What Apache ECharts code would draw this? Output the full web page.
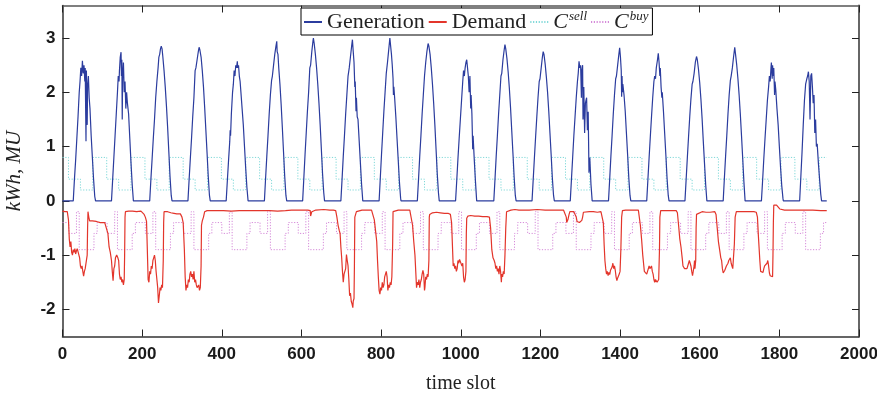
<!DOCTYPE html>
<html>
<head>
<meta charset="utf-8">
<script src="https://cdn.jsdelivr.net/npm/echarts@6/dist/echarts.min.js"></script>
<style>html,body{margin:0;padding:0;background:#fff}#c{width:877px;height:395px}</style>
</head>
<body>
<div id="c"></div>
<script>
// ---- data (slot-in-day, value); 96 slots per day, 20 days ----
const SLOTS_PER_DAY = 96;
const LAST_SLOT = 1919;
const xTicks = [0, 200, 400, 600, 800, 1000, 1200, 1400, 1600, 1800, 2000];
const yTicks = [-2, -1, 0, 1, 2, 3];

const generationByDay = [
  [[0,0],[27,0],[30,0.4],[33,0.75],[36,1.15],[39,1.55],[42,2.0],[44,2.2],[46,2.45],[48,2.3],[50,2.58],[52,2.35],[54,2.5],[56,2.2],[57,2.45],[59,1.1],[60,2.4],[61,2.0],[62,1.4],[63,2.1],[65,2.3],[67,1.9],[69,1.7],[72,1.2],[75,0.8],[78,0.4],[81,0.08],[83,0]],
  [[27,0],[30,0.4],[33,0.8],[36,1.2],[39,1.6],[42,2.0],[44,2.3],[46,2.2],[47,2.4],[49,2.65],[51,2.74],[52,2.3],[53,2.6],[54,1.5],[55,2.3],[57,2.55],[59,2.0],[61,2.2],[63,1.7],[65,2.0],[67,1.8],[70,1.6],[73,1.15],[76,0.7],[79,0.3],[82,0]],
  [[27,0],[30,0.4],[33,0.77],[36,1.15],[39,1.5],[42,1.9],[45,2.2],[48,2.45],[50,2.65],[52,2.7],[54,2.8],[56,2.85],[58,2.8],[60,2.65],[63,2.4],[66,2.1],[69,1.75],[72,1.35],[75,0.9],[78,0.45],[81,0.1],[83,0]],
  [[27,0],[30,0.4],[33,0.78],[36,1.15],[39,1.55],[42,1.9],[45,2.4],[47,2.45],[50,2.6],[53,2.75],[55,2.83],[57,2.78],[60,2.65],[63,2.4],[66,2.1],[69,1.72],[72,1.3],[75,0.88],[78,0.45],[81,0.1],[83,0]],
  [[27,0],[30,0.38],[33,0.75],[36,1.1],[37,1.3],[38,1.2],[40,1.6],[43,2.0],[45,2.15],[47,2.4],[49,2.3],[51,2.5],[53,2.45],[55,2.57],[56,2.45],[58,2.5],[60,2.3],[62,2.2],[64,2.0],[67,1.7],[70,1.4],[73,1.0],[76,0.6],[79,0.25],[82,0]],
  [[27,0],[30,0.42],[33,0.82],[36,1.2],[39,1.6],[42,1.95],[45,2.22],[47,2.3],[50,2.5],[53,2.7],[56,2.85],[58,2.94],[59,2.75],[61,2.7],[63,2.45],[66,2.15],[69,1.78],[72,1.35],[75,0.9],[78,0.45],[81,0.1],[83,0]],
  [[27,0],[30,0.42],[33,0.85],[36,1.25],[39,1.65],[42,2.0],[45,2.45],[47,2.5],[50,2.75],[53,2.95],[54,3.0],[56,2.9],[59,2.7],[62,2.45],[65,2.15],[68,1.8],[71,1.4],[74,0.95],[77,0.5],[80,0.15],[82,0]],
  [[27,0],[30,0.4],[33,0.82],[36,1.2],[39,1.6],[42,1.95],[45,2.3],[48,2.45],[51,2.65],[54,2.85],[56,2.97],[58,2.75],[60,2.55],[62,2.1],[63,2.2],[65,1.65],[66,1.9],[68,1.55],[70,1.5],[73,1.1],[76,0.7],[79,0.3],[82,0]],
  [[27,0],[30,0.42],[33,0.85],[36,1.25],[39,1.65],[42,2.0],[45,2.35],[48,2.55],[50,2.7],[52,2.85],[54,3.0],[56,2.85],[58,2.7],[60,2.5],[62,2.25],[63,1.95],[64,2.1],[66,1.9],[69,1.55],[72,1.15],[75,0.75],[78,0.35],[81,0.05],[82,0]],
  [[27,0],[30,0.4],[33,0.82],[36,1.2],[39,1.6],[42,1.95],[45,2.3],[48,2.55],[51,2.75],[54,2.9],[56,2.85],[59,2.7],[62,2.45],[65,2.15],[68,1.8],[71,1.4],[74,0.95],[77,0.5],[80,0.15],[82,0]],
  [[27,0],[30,0.38],[33,0.78],[36,1.15],[39,1.5],[42,1.85],[45,2.2],[47,2.4],[49,2.3],[51,2.45],[53,2.55],[55,2.6],[57,2.45],[59,2.3],[61,2.0],[63,2.3],[65,1.7],[66,1.95],[68,1.6],[70,0.95],[71,1.2],[74,0.75],[77,0.35],[80,0]],
  [[27,0],[30,0.4],[33,0.82],[36,1.2],[39,1.6],[42,1.95],[45,2.3],[47,2.35],[50,2.6],[53,2.78],[55,2.88],[57,2.8],[60,2.62],[63,2.38],[66,2.08],[69,1.72],[72,1.3],[75,0.88],[78,0.45],[81,0.1],[83,0]],
  [[27,0],[30,0.4],[33,0.8],[36,1.18],[39,1.55],[42,1.9],[45,2.2],[47,2.25],[50,2.45],[53,2.65],[55,2.75],[57,2.7],[60,2.52],[63,2.28],[66,2.0],[69,1.65],[72,1.25],[75,0.85],[78,0.42],[81,0.1],[83,0]],
  [[27,0],[30,0.4],[33,0.8],[36,1.2],[39,1.55],[42,1.9],[45,2.2],[47,2.35],[49,2.57],[51,2.45],[53,2.5],[55,1.9],[56,2.4],[58,2.5],[59,1.5],[61,2.1],[63,1.25],[65,1.8],[68,1.9],[70,1.3],[72,1.64],[74,0.52],[76,0.8],[79,0.3],[82,0]],
  [[27,0],[30,0.4],[33,0.82],[36,1.2],[39,1.6],[42,1.95],[45,2.25],[47,2.3],[50,2.5],[53,2.7],[55,2.82],[57,2.65],[59,2.4],[60,1.92],[61,2.3],[62,2.0],[63,2.15],[66,1.95],[69,1.65],[72,1.25],[75,0.85],[78,0.42],[81,0.1],[83,0]],
  [[27,0],[30,0.4],[33,0.8],[36,1.18],[39,1.55],[42,1.9],[45,2.2],[47,2.3],[49,2.25],[51,2.45],[54,2.6],[56,2.72],[58,2.55],[60,2.3],[61,2.45],[63,2.1],[65,1.9],[66,2.0],[69,1.65],[72,1.25],[75,0.85],[78,0.42],[81,0.1],[83,0]],
  [[27,0],[30,0.4],[33,0.8],[36,1.18],[39,1.55],[42,1.88],[45,2.15],[47,2.2],[50,2.35],[53,2.55],[56,2.66],[58,2.6],[61,2.42],[64,2.18],[67,1.88],[70,1.52],[73,1.1],[76,0.7],[79,0.3],[82,0]],
  [[27,0],[30,0.42],[33,0.82],[36,1.2],[39,1.6],[42,1.95],[45,2.22],[47,2.3],[50,2.45],[53,2.65],[56,2.83],[58,2.7],[61,2.5],[64,2.25],[67,1.95],[70,1.6],[73,1.2],[76,0.78],[79,0.35],[82,0]],
  [[27,0],[30,0.38],[33,0.78],[36,1.15],[39,1.5],[42,1.85],[45,2.1],[47,2.3],[49,2.2],[51,2.45],[52,2.55],[54,2.25],[55,2.5],[57,2.3],[58,2.45],[60,1.95],[61,2.2],[63,2.05],[66,1.7],[69,1.4],[72,1.0],[75,0.62],[78,0.28],[81,0.05],[82,0]],
  [[27,0],[30,0.45],[33,0.9],[36,1.4],[39,1.85],[42,2.15],[45,2.25],[47,2.3],[49,2.38],[51,2.2],[53,1.5],[55,2.3],[57,2.35],[59,2.1],[61,1.8],[63,1.95],[65,1.25],[67,1.5],[69,1.0],[71,1.05],[74,0.7],[77,0.4],[80,0.12],[82,0],[95,0]]
];

const demandByDay = [
  [[0,-0.19],[6,-0.2],[12,-0.2],[15,-0.35],[17,-0.7],[19,-0.85],[21,-0.75],[23,-0.95],[25,-1.0],[27,-0.9],[29,-0.95],[31,-0.88],[33,-0.98],[35,-0.92],[37,-0.88],[39,-0.85],[41,-0.9],[43,-1.05],[45,-1.2],[47,-1.25],[49,-1.2],[51,-1.3],[53,-1.39],[55,-1.3],[57,-1.25],[59,-1.28],[61,-1.22],[62,-1.0],[63,-0.5],[64,-0.2],[66,-0.3],[68,-0.37],[70,-0.36],[75,-0.37],[80,-0.37],[85,-0.38],[90,-0.38],[95,-0.4]],
  [[0,-0.4],[10,-0.4],[15,-0.42],[18,-0.6],[21,-0.85],[24,-0.95],[27,-1.1],[29,-1.3],[31,-1.47],[33,-1.25],[35,-1.2],[37,-1.05],[40,-1.0],[43,-1.05],[45,-1.1],[47,-1.35],[49,-1.45],[51,-1.4],[53,-1.5],[55,-1.45],[57,-1.55],[59,-1.45],[60,-1.0],[61,-0.3],[62,-0.2],[70,-0.19],[80,-0.19],[90,-0.2],[95,-0.19]],
  [[0,-0.19],[5,-0.19],[10,-0.2],[13,-0.25],[16,-0.3],[19,-0.38],[21,-0.9],[23,-1.45],[25,-1.5],[27,-1.3],[29,-1.35],[31,-1.2],[33,-1.25],[35,-1.1],[37,-1.05],[39,-1.0],[41,-1.1],[43,-1.3],[45,-1.45],[47,-1.6],[49,-1.88],[51,-1.75],[53,-1.6],[55,-1.65],[57,-1.55],[59,-1.6],[61,-1.1],[62,-0.4],[63,-0.2],[66,-0.18],[72,-0.2],[80,-0.22],[88,-0.23],[95,-0.24]],
  [[0,-0.24],[8,-0.24],[12,-0.3],[15,-0.4],[18,-0.9],[20,-1.4],[22,-1.65],[24,-1.55],[26,-1.6],[28,-1.45],[30,-1.5],[32,-1.35],[34,-1.3],[36,-1.4],[38,-1.35],[40,-1.45],[42,-1.3],[44,-1.5],[46,-1.45],[48,-1.55],[50,-1.6],[52,-1.62],[54,-1.55],[56,-1.65],[58,-1.6],[60,-1.2],[61,-0.45],[63,-0.37],[66,-0.3],[69,-0.2],[75,-0.18],[85,-0.18],[95,-0.18]],
  [[0,-0.18],[20,-0.18],[40,-0.19],[60,-0.18],[80,-0.18],[95,-0.18]],
  [[0,-0.18],[20,-0.18],[40,-0.18],[60,-0.19],[80,-0.18],[95,-0.17]],
  [[0,-0.17],[20,-0.17],[40,-0.17],[46,-0.18],[47,-0.28],[49,-0.29],[50,-0.2],[60,-0.17],[80,-0.16],[95,-0.17]],
  [[0,-0.17],[8,-0.17],[14,-0.18],[17,-0.3],[20,-0.45],[23,-0.55],[25,-0.6],[27,-0.85],[29,-1.05],[31,-1.3],[33,-1.5],[35,-1.35],[37,-1.3],[39,-1.25],[41,-0.99],[43,-1.1],[45,-1.2],[47,-1.45],[49,-1.75],[51,-1.7],[53,-1.85],[55,-1.9],[57,-1.97],[58,-1.85],[60,-1.8],[61,-1.2],[62,-0.3],[64,-0.28],[66,-0.2],[70,-0.19],[80,-0.17],[90,-0.17],[95,-0.17]],
  [[0,-0.17],[8,-0.17],[12,-0.19],[15,-0.35],[18,-0.55],[21,-0.75],[23,-1.1],[25,-1.4],[27,-1.65],[29,-1.72],[31,-1.6],[33,-1.65],[35,-1.5],[37,-1.6],[39,-1.55],[41,-1.4],[43,-1.35],[45,-1.3],[47,-1.4],[49,-1.65],[51,-1.55],[53,-1.6],[55,-1.5],[57,-1.55],[59,-1.4],[61,-0.8],[62,-0.2],[66,-0.18],[75,-0.17],[85,-0.17],[95,-0.17]],
  [[0,-0.17],[8,-0.17],[12,-0.2],[15,-0.45],[18,-0.75],[21,-1.0],[23,-1.3],[25,-1.6],[27,-1.5],[29,-1.55],[31,-1.45],[33,-1.6],[35,-1.5],[37,-1.45],[39,-1.35],[41,-1.28],[43,-1.35],[45,-1.65],[46,-1.6],[48,-1.4],[50,-1.45],[52,-1.35],[54,-1.4],[56,-1.1],[57,-0.3],[58,-0.25],[65,-0.22],[75,-0.21],[85,-0.22],[95,-0.23]],
  [[0,-0.23],[8,-0.23],[14,-0.25],[17,-0.4],[19,-0.8],[21,-1.2],[23,-1.15],[25,-1.25],[27,-1.2],[29,-1.3],[31,-1.25],[33,-1.1],[35,-1.15],[37,-1.08],[39,-1.12],[41,-1.1],[43,-1.2],[45,-1.15],[47,-1.4],[49,-1.5],[51,-1.45],[53,-1.3],[54,-0.6],[55,-0.32],[58,-0.28],[65,-0.27],[75,-0.28],[85,-0.28],[95,-0.29]],
  [[0,-0.29],[10,-0.29],[16,-0.3],[19,-0.5],[22,-0.9],[25,-1.05],[28,-1.1],[30,-1.15],[32,-1.25],[34,-1.2],[36,-1.3],[38,-1.25],[40,-1.35],[42,-1.2],[44,-1.3],[46,-1.5],[47,-1.35],[49,-1.4],[51,-1.3],[53,-1.35],[55,-1.0],[57,-0.5],[59,-0.2],[62,-0.17],[70,-0.17],[80,-0.16],[90,-0.17],[95,-0.17]],
  [[0,-0.17],[20,-0.17],[40,-0.16],[60,-0.17],[80,-0.17],[95,-0.17]],
  [[0,-0.17],[10,-0.17],[15,-0.18],[17,-0.3],[18,-0.4],[20,-0.42],[21,-0.35],[22,-0.38],[24,-0.25],[26,-0.2],[30,-0.19],[36,-0.2],[40,-0.22],[42,-0.3],[44,-0.38],[47,-0.36],[50,-0.4],[53,-0.38],[56,-0.36],[58,-0.3],[60,-0.21],[65,-0.2],[75,-0.2],[85,-0.2],[95,-0.21]],
  [[0,-0.21],[8,-0.2],[12,-0.22],[14,-0.4],[16,-0.8],[18,-1.1],[20,-1.25],[22,-1.35],[24,-1.3],[26,-1.38],[28,-1.32],[30,-1.36],[32,-1.28],[34,-1.25],[36,-1.22],[38,-1.15],[40,-1.25],[42,-1.2],[44,-1.28],[46,-1.4],[48,-1.47],[50,-1.42],[52,-1.45],[54,-1.35],[56,-1.3],[58,-0.9],[60,-0.3],[62,-0.18],[70,-0.17],[80,-0.17],[90,-0.17],[95,-0.17]],
  [[0,-0.17],[6,-0.17],[9,-0.2],[11,-0.45],[14,-0.7],[17,-1.0],[19,-1.15],[21,-1.3],[23,-1.32],[25,-1.28],[27,-1.35],[29,-1.3],[31,-1.28],[33,-1.2],[35,-1.25],[37,-1.22],[39,-1.2],[41,-1.3],[43,-1.35],[45,-1.45],[47,-1.5],[49,-1.45],[51,-1.48],[53,-1.5],[55,-1.52],[57,-1.45],[59,-0.9],[60,-0.3],[62,-0.18],[70,-0.18],[80,-0.18],[90,-0.18],[95,-0.18]],
  [[0,-0.18],[5,-0.18],[8,-0.22],[11,-0.45],[14,-0.7],[17,-0.85],[20,-1.05],[22,-1.2],[24,-1.18],[26,-1.25],[28,-1.22],[30,-1.28],[32,-1.25],[34,-1.2],[36,-1.15],[38,-1.1],[40,-1.12],[42,-1.2],[44,-1.3],[46,-1.38],[48,-1.4],[50,-1.2],[51,-1.1],[52,-1.25],[54,-1.1],[55,-0.5],[56,-0.25],[60,-0.22],[70,-0.2],[80,-0.21],[90,-0.21],[95,-0.2]],
  [[0,-0.2],[6,-0.2],[9,-0.25],[12,-0.5],[15,-0.75],[18,-0.9],[21,-1.05],[23,-1.1],[25,-1.25],[27,-1.33],[29,-1.3],[31,-1.28],[33,-1.25],[35,-1.2],[37,-1.22],[39,-1.15],[41,-1.1],[43,-1.12],[45,-1.05],[47,-1.15],[49,-1.2],[51,-1.25],[53,-1.22],[55,-0.8],[57,-0.3],[60,-0.2],[70,-0.2],[80,-0.2],[90,-0.2],[95,-0.2]],
  [[0,-0.2],[8,-0.2],[14,-0.21],[17,-0.3],[19,-0.6],[21,-0.85],[23,-1.1],[25,-1.3],[27,-1.33],[29,-1.28],[31,-1.32],[33,-1.25],[35,-1.2],[37,-1.22],[39,-1.2],[41,-1.15],[43,-1.1],[45,-1.2],[47,-1.33],[49,-1.38],[51,-1.4],[53,-1.35],[55,-1.4],[56,-1.0],[57,-0.4],[58,-0.08],[60,-0.06],[65,-0.08],[70,-0.08],[73,-0.15],[75,-0.17],[85,-0.17],[95,-0.17]],
  [[0,-0.17],[20,-0.17],[40,-0.17],[60,-0.17],[80,-0.18],[95,-0.18]]
];

// daily time-of-use price schedules: [start slot in day, price]
const sellTariff = [[0,0.8],[15,0.4],[45,0.2],[76,0.8]];
const buyTariff  = [[0,-0.4],[16,-0.6],[35,-0.2],[42,-0.9],[79,-0.6],[87,-0.4]];

// ---- build series points ----
function flattenDays(days){
  const out = [];
  days.forEach((pts, d) => pts.forEach(p => out.push([d*SLOTS_PER_DAY + p[0], p[1]])));
  return out;
}
function repeatTariff(t, nDays){
  const out = [];
  for (let d = 0; d < nDays; d++) t.forEach(p => out.push([d*SLOTS_PER_DAY + p[0], p[1]]));
  out.push([LAST_SLOT, out[out.length-1][1]]);
  return out;
}
const genData = flattenDays(generationByDay);
const demData = flattenDays(demandByDay);
const sellData = repeatTariff(sellTariff, generationByDay.length);
const buyData = repeatTariff(buyTariff, generationByDay.length);

const chart = echarts.init(document.getElementById('c'), null, {renderer:'canvas'});
const tickFont = {fontFamily:'Liberation Sans, Arial, sans-serif', fontSize:17, fontWeight:'bold', color:'#1a1a1a'};
const serif = 'Liberation Serif, Times New Roman, serif';

chart.setOption({
  animation:false,
  backgroundColor:'#fff',
  grid:{left:62.5, right:18, top:5.5, bottom:58.5, containLabel:false, outerBoundsMode:'none'},
  legend:{
    data:['Generation','Demand','Csell','Cbuy'],
    left:301, top:8, orient:'horizontal',
    backgroundColor:'#fff', borderColor:'#000', borderWidth:1, borderRadius:0,
    padding:[2,4,2,2], itemWidth:18, itemHeight:10, itemGap:3,
    itemStyle:{opacity:0},
    textStyle:{fontFamily:serif, fontSize:22, color:'#222',
      rich:{
        c:{fontFamily:serif, fontStyle:'italic', fontSize:22, color:'#222', lineHeight:24},
        s:{fontFamily:serif, fontStyle:'italic', fontSize:13, color:'#222', verticalAlign:'top', lineHeight:24, padding:[0,0,8,1]}
      }},
    formatter:function(n){
      if(n==='Csell') return '{c|C}{s|sell}';
      if(n==='Cbuy') return '{c|C}{s|buy}';
      return n;
    }
  },
  xAxis:[{
    type:'value', position:'bottom', min:0, max:2000, interval:200,
    axisLine:{show:true, onZero:false, lineStyle:{color:'#333', width:1.5}},
    axisTick:{show:true, inside:true, length:7, lineStyle:{color:'#222', width:1}},
    axisLabel:Object.assign({margin:9, formatter:v=>String(v)}, tickFont),
    splitLine:{show:false},
    name:'time slot', nameLocation:'middle', nameGap:37,
    nameTextStyle:{fontFamily:serif, fontSize:20, color:'#222'}
  },{
    type:'value', position:'top', min:0, max:2000, interval:200,
    axisLine:{show:true, onZero:false, lineStyle:{color:'#555', width:1.5}},
    axisTick:{show:true, inside:true, length:7, lineStyle:{color:'#222', width:1}},
    axisLabel:{show:false}, splitLine:{show:false}
  }],
  yAxis:[{
    type:'value', position:'left', min:-2.5, max:3.6,
    axisLine:{show:true, onZero:false, lineStyle:{color:'#333', width:1.5}},
    axisTick:{show:true, inside:true, length:7, customValues:yTicks, lineStyle:{color:'#222', width:1}},
    axisLabel:Object.assign({margin:7, customValues:yTicks, formatter:v=>String(v)}, tickFont),
    splitLine:{show:false},
    name:'kWh, MU', nameLocation:'middle', nameGap:38, nameRotate:90,
    nameTextStyle:{fontFamily:serif, fontStyle:'italic', fontSize:21, color:'#222'}
  },{
    type:'value', position:'right', min:-2.5, max:3.6,
    axisLine:{show:true, onZero:false, lineStyle:{color:'#666', width:2}},
    axisTick:{show:true, inside:true, length:7, customValues:yTicks, lineStyle:{color:'#222', width:1}},
    axisLabel:{show:false}, splitLine:{show:false}
  }],
  series:[
    {name:'Csell', type:'line', data:sellData, step:'end', symbol:'none',
      itemStyle:{color:'#7fd8d8'}, lineStyle:{color:'#7fd8d8', width:1, type:[1.2,1.6]}},
    {name:'Cbuy', type:'line', data:buyData, step:'end', symbol:'none',
      itemStyle:{color:'#d58ad9'}, lineStyle:{color:'#d58ad9', width:1, type:[1.2,1.6]}},
    {name:'Generation', type:'line', data:genData, symbol:'none',
      itemStyle:{color:'#2b3c9e'}, lineStyle:{color:'#2b3c9e', width:1.2}},
    {name:'Demand', type:'line', data:demData, symbol:'none',
      itemStyle:{color:'#e3352b'}, lineStyle:{color:'#e3352b', width:1.2}}
  ]
});
</script>
</body>
</html>
